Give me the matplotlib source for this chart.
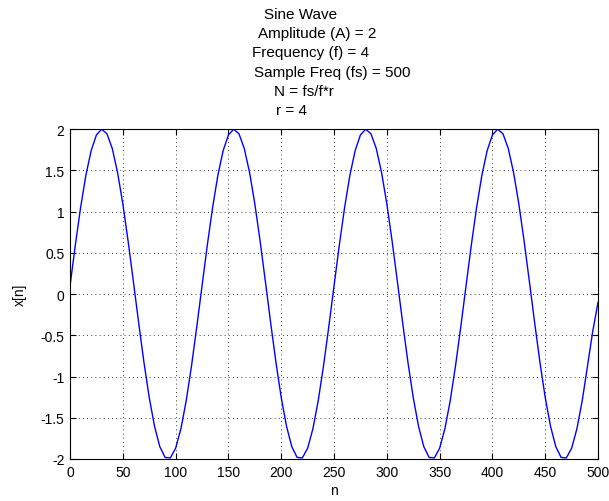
import matplotlib
matplotlib.use("Agg")
import matplotlib.pyplot as plt

plt.rcParams["font.family"] = ["Liberation Sans", "DejaVu Sans"]

# sample index, every 5th sample of the 500-sample record
n = list(range(0, 501, 5))

# x[n] values, one period (25 points) per row
x = [
    0.100, 0.594, 1.050, 1.441, 1.740, 1.931, 2.000, 1.943, 1.765, 1.475,
    1.093, 0.642, 0.151, -0.350, -0.829, -1.255, -1.603, -1.850, -1.981, -1.987,
    -1.869, -1.633, -1.294, -0.874, -0.399,
    0.100, 0.594, 1.050, 1.441, 1.740, 1.931, 2.000, 1.943, 1.765, 1.475,
    1.093, 0.642, 0.151, -0.350, -0.829, -1.255, -1.603, -1.850, -1.981, -1.987,
    -1.869, -1.633, -1.294, -0.874, -0.399,
    0.100, 0.594, 1.050, 1.441, 1.740, 1.931, 2.000, 1.943, 1.765, 1.475,
    1.093, 0.642, 0.151, -0.350, -0.829, -1.255, -1.603, -1.850, -1.981, -1.987,
    -1.869, -1.633, -1.294, -0.874, -0.399,
    0.100, 0.594, 1.050, 1.441, 1.740, 1.931, 2.000, 1.943, 1.765, 1.475,
    1.093, 0.642, 0.151, -0.350, -0.829, -1.255, -1.603, -1.850, -1.981, -1.987,
    -1.869, -1.633, -1.294, -0.874, -0.450,
    -0.100,
]

title_lines = [
    "Sine Wave",
    "Amplitude (A) = 2",
    "Frequency (f) = 4",
    "Sample Freq (fs) = 500",
    "N = fs/f*r",
    "r = 4",
]
xticks = [0, 50, 100, 150, 200, 250, 300, 350, 400, 450, 500]
yticks = [-2, -1.5, -1, -0.5, 0, 0.5, 1, 1.5, 2]

fig = plt.figure(figsize=(6.09, 5.02), dpi=100)
ax = fig.add_axes([0.115, 0.0837, 0.867, 0.657])

ax.plot(n, x, color="#0000ff", linewidth=1.0)

ax.set_xlim(0, 500)
ax.set_ylim(-2, 2)
ax.set_xticks(xticks)
ax.set_yticks(yticks)
ax.set_xticklabels([str(t) for t in xticks])
ax.set_yticklabels(["%g" % t for t in yticks])
ax.tick_params(direction="in", top=True, right=True, length=4,
               labelsize=10, width=0.8, pad=4)
ax.grid(True, color="black", linestyle=(0, (1, 4)), linewidth=0.6)
for s in ax.spines.values():
    s.set_linewidth(0.8)

ax.set_xlabel("n", fontsize=10, labelpad=3)
ax.set_ylabel("x[n]", fontsize=10, labelpad=10)

# multi-line title, each line placed separately
centers = [301, 317, 311, 332, 304, 291]
rows = [15, 34, 53, 73, 92, 111]
for line, cx, cy in zip(title_lines, centers, rows):
    fig.text(cx / 609, 1 - cy / 502, line, ha="center", va="center", fontsize=11)

fig.savefig("out.png", dpi=100)
